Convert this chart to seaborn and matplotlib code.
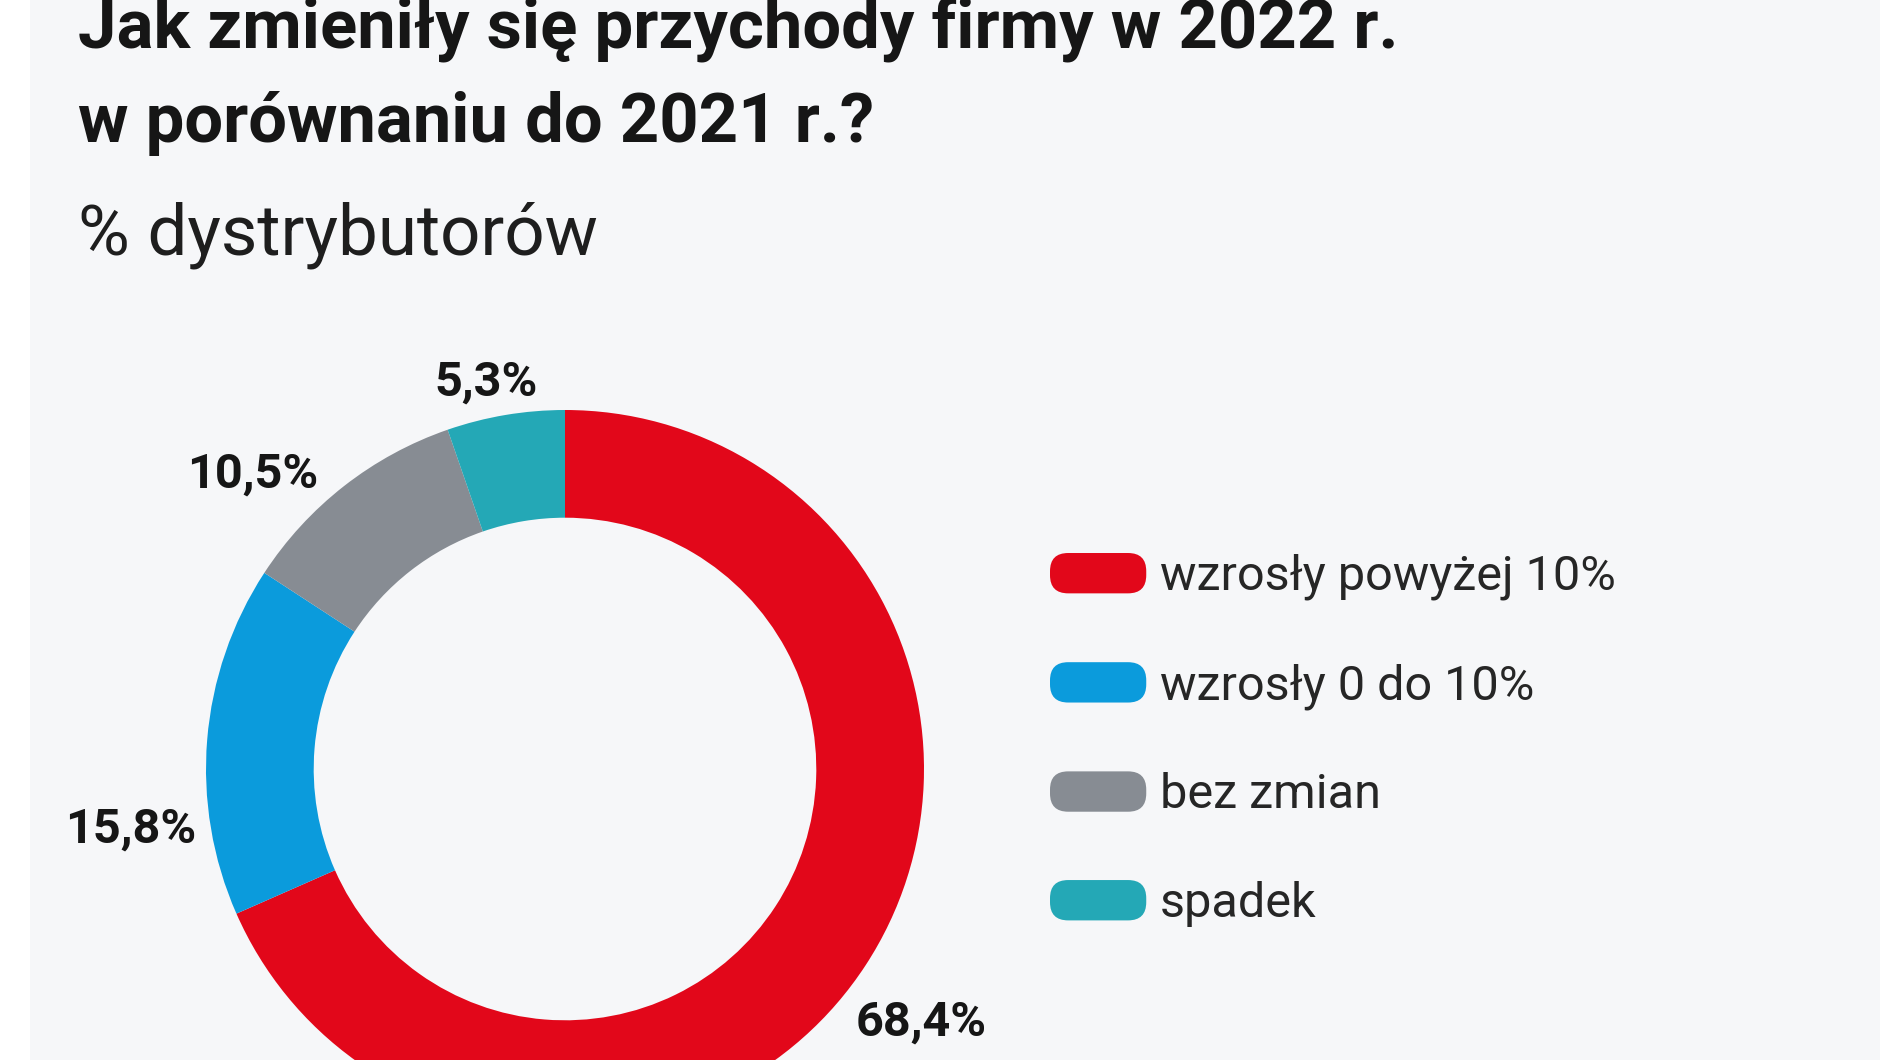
import matplotlib
matplotlib.use('Agg')
import matplotlib.pyplot as plt
from matplotlib.patches import Patch, FancyBboxPatch, Rectangle
from matplotlib.legend_handler import HandlerPatch
import numpy as np
import seaborn as sns

# data
categories = ['wzrosły powyżej 10%', 'wzrosły 0 do 10%', 'bez zmian', 'spadek']
shares = [68.4, 15.8, 10.5, 5.3]
share_labels = ['68,4%', '15,8%', '10,5%', '5,3%']
colors = ['#E2071A', '#0B9BDC', '#878C93', '#24A8B6']

title = 'Jak zmieniły się przychody firmy w 2022 r.\nw porównaniu do 2021 r.?'
subtitle = '% dystrybutorów'

sns.set_theme(style='white')
plt.rcParams['font.family'] = ['Roboto', 'DejaVu Sans']

bg = '#F6F7F9'
fig = plt.figure(figsize=(18.8, 10.6), dpi=100, facecolor='white')
fig.patches.append(Rectangle((30 / 1880, 0), 1, 1, transform=fig.transFigure,
                             facecolor=bg, edgecolor='none', zorder=-10))

# title block
x0 = 78 / 1880
fig.text(x0, 1 - 48 / 1060, title.split('\n')[0], fontsize=49.5, fontweight='bold',
         color='#161616', va='baseline')
fig.text(x0, 1 - 142 / 1060, title.split('\n')[1], fontsize=49.5, fontweight='bold',
         color='#161616', va='baseline')
fig.text(x0, 1 - 254 / 1060, subtitle, fontsize=51, color='#1e1e1e', va='baseline')

# donut
a = 1.3
ax = fig.add_axes([(565 - 466.7) / 1880, (291 - 466.7) / 1060, 933.4 / 1880, 933.4 / 1060])
ax.set_facecolor('none')
wedges, _ = ax.pie(shares, colors=colors, startangle=90, counterclock=False,
                   wedgeprops=dict(width=0.30, linewidth=0))
ax.set_xlim(-a, a)
ax.set_ylim(-a, a)
ax.set_aspect('equal')
ax.axis('off')

# value labels around the ring
angle_nudge = [-8, 14, 2, -5.5]
radius = [1.075, 1.04, 1.07, 1.08]
for w, lab, dn, r in zip(wedges, share_labels, angle_nudge, radius):
    mid = np.deg2rad((w.theta1 + w.theta2) / 2 + dn)
    x, y = r * np.cos(mid), r * np.sin(mid)
    ax.text(x, y, lab, ha='left' if x > 0 else 'right', va='center',
            fontsize=35, fontweight='bold', color='#161616')


class RoundHandler(HandlerPatch):
    def create_artists(self, legend, orig_handle, xdescent, ydescent, width, height, fontsize, trans):
        p = FancyBboxPatch((-xdescent, -ydescent), width, height,
                           boxstyle='round,pad=0,rounding_size=%f' % (height * 0.45),
                           facecolor=orig_handle.get_facecolor(), edgecolor='none',
                           transform=trans)
        return [p]


handles = [Patch(facecolor=c, label=l) for c, l in zip(colors, categories)]
fig.legend(handles=handles, loc='center left', bbox_to_anchor=(1050 / 1880, 1 - 740 / 1060),
           frameon=False, fontsize=35, handlelength=1.98, handleheight=0.9,
           handletextpad=0.28, labelspacing=1.27, borderpad=0, borderaxespad=0,
           labelcolor='#262626', handler_map={Patch: RoundHandler()})

fig.savefig('out.png', dpi=100, facecolor=fig.get_facecolor())
